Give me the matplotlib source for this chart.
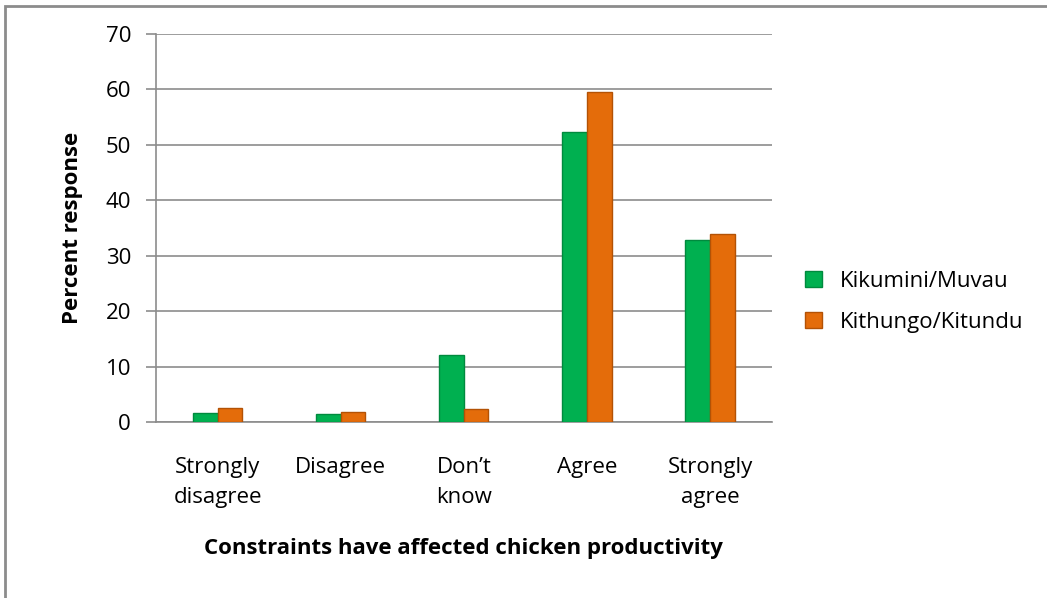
#!/usr/bin/env python3

import numpy as np
import matplotlib
matplotlib.use('Agg')
import matplotlib.pyplot as plt
from matplotlib.patches import Rectangle

plt.rcParams['font.family'] = ['Open Sans', 'DejaVu Sans']

categories = ["Strongly\ndisagree", "Disagree", "Don\u2019t\nknow", "Agree", "Strongly\nagree"]
kikumini = [1.6, 1.5, 12.0, 52.4, 32.8]
kithungo = [2.5, 1.8, 2.4, 59.6, 34.0]
series_names = ["Kikumini/Muvau", "Kithungo/Kitundu"]
yticks = [0, 10, 20, 30, 40, 50, 60, 70]

green = '#00B050'
orange = '#E46C0A'
fs = 16

fig = plt.figure(figsize=(10.47, 5.98), dpi=100)
ax = fig.add_axes([0.149, 0.2943, 0.588, 0.6488])

x = np.arange(len(categories))
w = 0.2
ax.bar(x - w / 2, kikumini, w, color=green, edgecolor='#008a3e', linewidth=1.0, label=series_names[0], zorder=3)
ax.bar(x + w / 2, kithungo, w, color=orange, edgecolor='#b35205', linewidth=1.0, label=series_names[1], zorder=3)

ax.set_xlim(-0.5, len(categories) - 0.5)
ax.set_ylim(0, 70)
ax.set_yticks(yticks)
ax.set_yticklabels([str(v) for v in yticks], fontsize=fs)
ax.set_xticks(x)
ax.set_xticklabels(categories, fontsize=fs, linespacing=1.55, va='top')
ax.tick_params(axis='x', length=0, pad=25)
ax.tick_params(axis='y', length=7, color='#8c8c8c', width=1.2, pad=11)

ax.grid(axis='y', color='#8c8c8c', linewidth=1.2, zorder=0)
for s in ['top', 'right']:
    ax.spines[s].set_visible(False)
ax.spines['left'].set_color('#8c8c8c')
ax.spines['left'].set_linewidth(1.2)
ax.spines['bottom'].set_color('#8c8c8c')
ax.spines['bottom'].set_linewidth(1.2)

ax.set_ylabel('Percent response', fontsize=fs, fontweight='bold', labelpad=16)
ax.set_xlabel('Constraints have affected chicken productivity', fontsize=fs, fontweight='bold', labelpad=22)

ax.legend(loc='center left', bbox_to_anchor=(0.750, 0.495), bbox_transform=fig.transFigure,
          frameon=False, fontsize=fs, handlelength=0.75, handleheight=0.75,
          labelspacing=0.9, handletextpad=0.8)

fig.patches.append(Rectangle((0.005, -0.05), 1.1, 1.04, transform=fig.transFigure,
                             fill=False, edgecolor='#8c8c8c', linewidth=2.0))

fig.savefig('out.png', dpi=100)
